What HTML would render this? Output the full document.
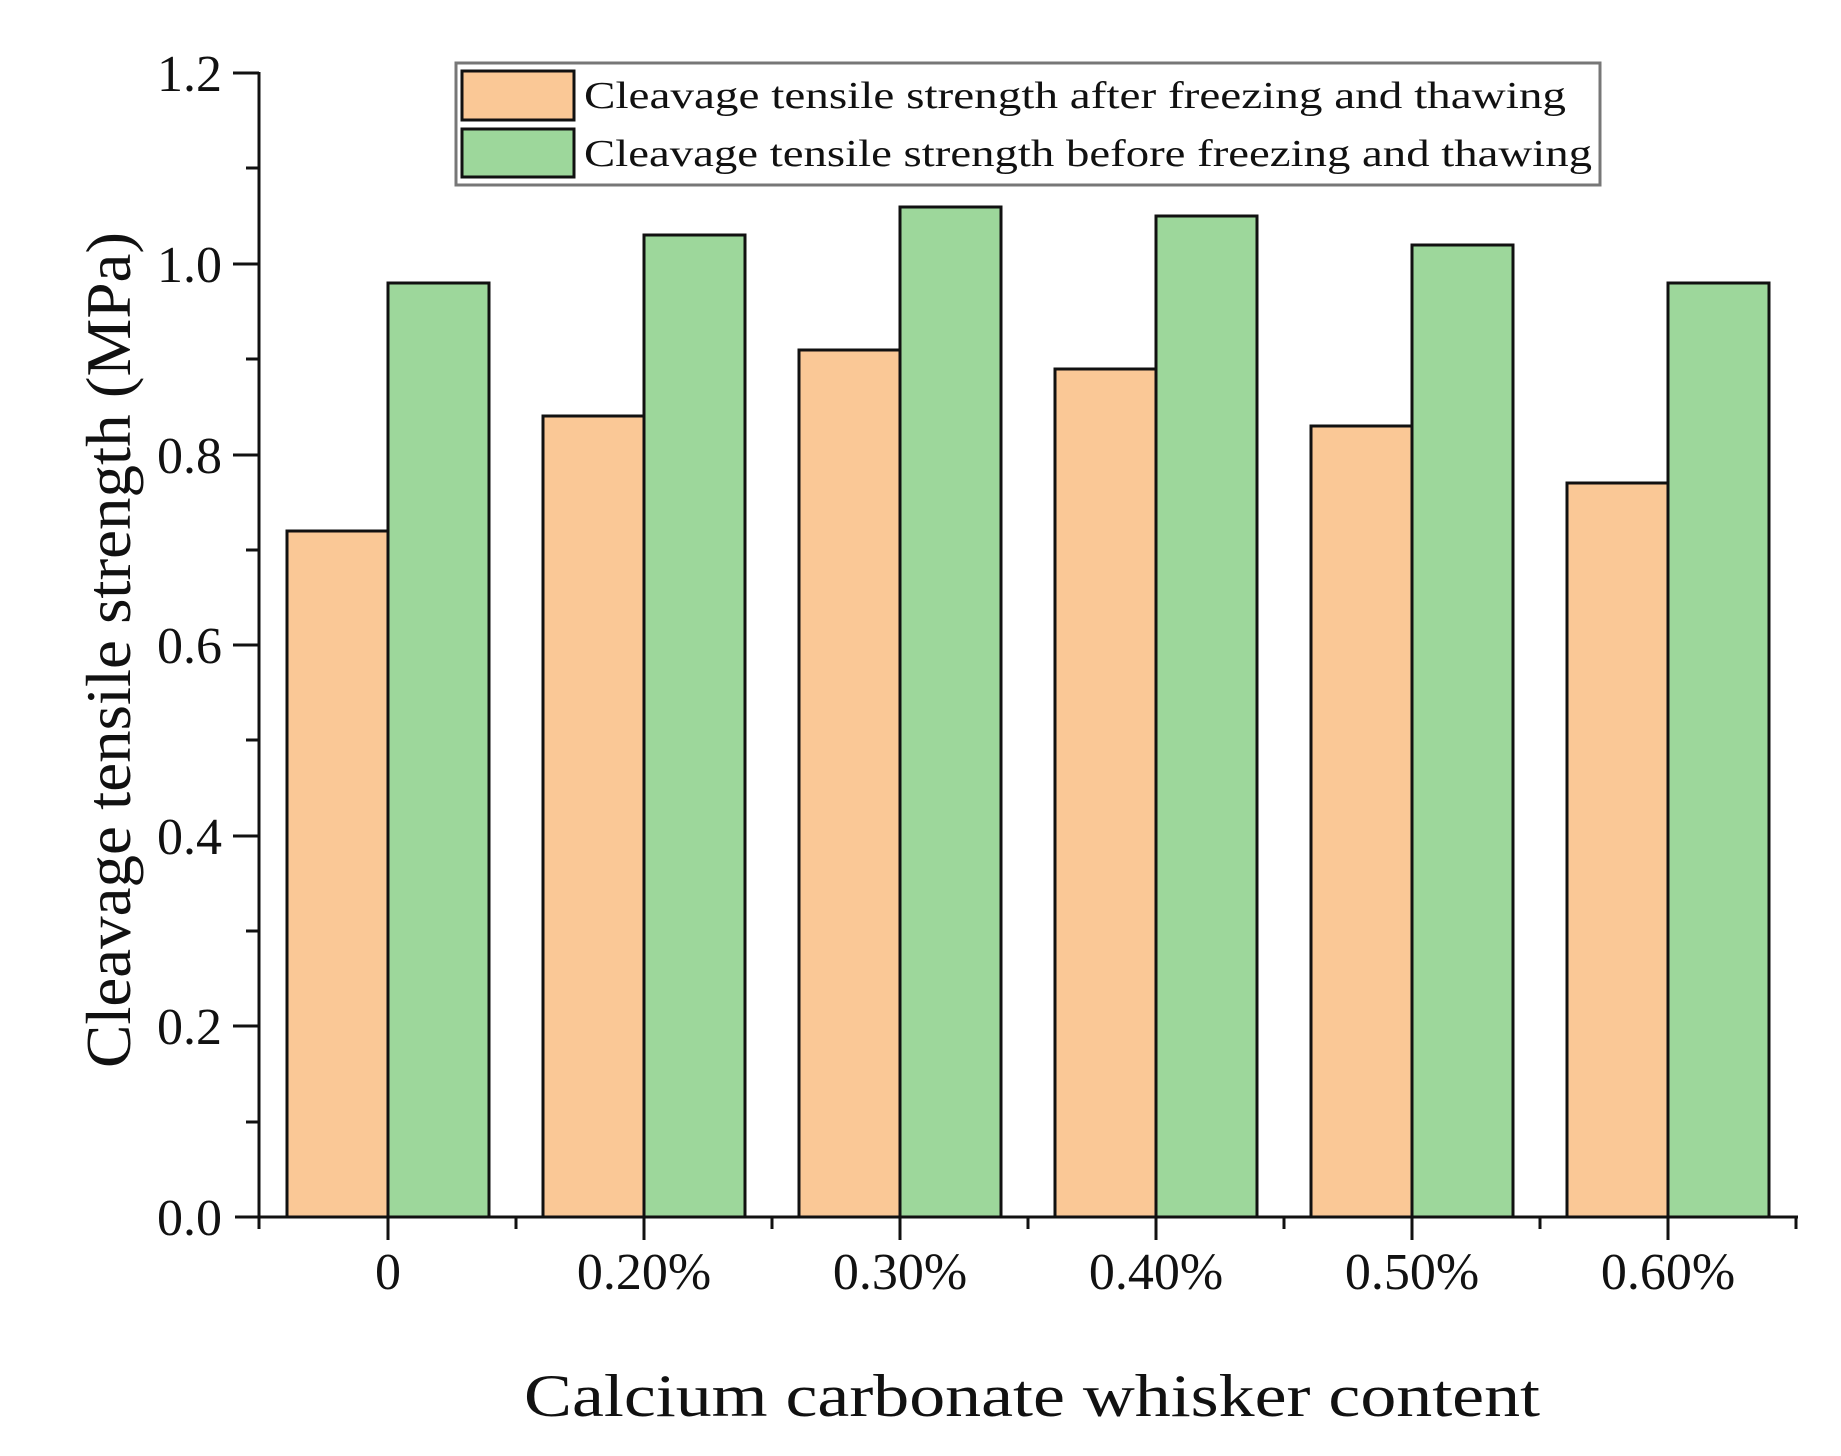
<!DOCTYPE html>
<html><head><meta charset="utf-8"><style>html,body{margin:0;padding:0;background:#fff}svg{display:block}</style></head>
<body>
<svg width="1841" height="1456" viewBox="0 0 1841 1456" xmlns="http://www.w3.org/2000/svg" font-family="Liberation Serif, serif" fill="#111">
<g stroke="#111" stroke-width="3">
<rect x="287" y="531" width="101" height="686" fill="#fac896"/>
<rect x="388" y="283" width="101" height="934" fill="#9dd79b"/>
<rect x="543" y="416" width="101" height="801" fill="#fac896"/>
<rect x="644" y="235" width="101" height="982" fill="#9dd79b"/>
<rect x="799" y="350" width="101" height="867" fill="#fac896"/>
<rect x="900" y="207" width="101" height="1010" fill="#9dd79b"/>
<rect x="1055" y="369" width="101" height="848" fill="#fac896"/>
<rect x="1156" y="216" width="101" height="1001" fill="#9dd79b"/>
<rect x="1311" y="426" width="101" height="791" fill="#fac896"/>
<rect x="1412" y="245" width="101" height="972" fill="#9dd79b"/>
<rect x="1567" y="483" width="101" height="734" fill="#fac896"/>
<rect x="1668" y="283" width="101" height="934" fill="#9dd79b"/>
</g>
<g stroke="#111" stroke-width="3" fill="none">
<line x1="259" y1="72" x2="259" y2="1218"/>
<line x1="235" y1="1217" x2="1798" y2="1217"/>
<line x1="233" y1="73" x2="259" y2="73"/>
<line x1="233" y1="264" x2="259" y2="264"/>
<line x1="233" y1="455" x2="259" y2="455"/>
<line x1="233" y1="645" x2="259" y2="645"/>
<line x1="233" y1="836" x2="259" y2="836"/>
<line x1="233" y1="1026" x2="259" y2="1026"/>
<line x1="246" y1="168" x2="259" y2="168"/>
<line x1="246" y1="359" x2="259" y2="359"/>
<line x1="246" y1="550" x2="259" y2="550"/>
<line x1="246" y1="740" x2="259" y2="740"/>
<line x1="246" y1="931" x2="259" y2="931"/>
<line x1="246" y1="1122" x2="259" y2="1122"/>
<line x1="388" y1="1217" x2="388" y2="1240"/>
<line x1="644" y1="1217" x2="644" y2="1240"/>
<line x1="900" y1="1217" x2="900" y2="1240"/>
<line x1="1156" y1="1217" x2="1156" y2="1240"/>
<line x1="1412" y1="1217" x2="1412" y2="1240"/>
<line x1="1668" y1="1217" x2="1668" y2="1240"/>
<line x1="259" y1="1217" x2="259" y2="1229"/>
<line x1="516" y1="1217" x2="516" y2="1229"/>
<line x1="772" y1="1217" x2="772" y2="1229"/>
<line x1="1028" y1="1217" x2="1028" y2="1229"/>
<line x1="1284" y1="1217" x2="1284" y2="1229"/>
<line x1="1540" y1="1217" x2="1540" y2="1229"/>
<line x1="1796" y1="1217" x2="1796" y2="1229"/>
</g>
<g font-size="52" text-anchor="end">
<text x="222" y="91">1.2</text>
<text x="222" y="282">1.0</text>
<text x="222" y="473">0.8</text>
<text x="222" y="663">0.6</text>
<text x="222" y="854">0.4</text>
<text x="222" y="1044">0.2</text>
<text x="222" y="1235">0.0</text>
</g>
<g font-size="52" text-anchor="middle">
<text x="388" y="1289">0</text>
<text x="644" y="1289">0.20%</text>
<text x="900" y="1289">0.30%</text>
<text x="1156" y="1289">0.40%</text>
<text x="1412" y="1289">0.50%</text>
<text x="1668" y="1289">0.60%</text>
</g>
<text x="1032" y="1416" font-size="60" text-anchor="middle" textLength="1016" lengthAdjust="spacingAndGlyphs">Calcium carbonate whisker content</text>
<text transform="translate(130,650) rotate(-90)" font-size="64" text-anchor="middle" textLength="836" lengthAdjust="spacingAndGlyphs">Cleavage tensile strength (MPa)</text>
<rect x="456" y="63" width="1144" height="122" fill="#fff" stroke="#777" stroke-width="3"/>
<rect x="462" y="71" width="112" height="49" fill="#fac896" stroke="#111" stroke-width="3"/>
<rect x="462" y="129" width="112" height="48" fill="#9dd79b" stroke="#111" stroke-width="3"/>
<text x="584" y="108" font-size="38" textLength="982" lengthAdjust="spacingAndGlyphs">Cleavage tensile strength after freezing and thawing</text>
<text x="584" y="166" font-size="38" textLength="1008" lengthAdjust="spacingAndGlyphs">Cleavage tensile strength before freezing and thawing</text>
</svg>
</body></html>
